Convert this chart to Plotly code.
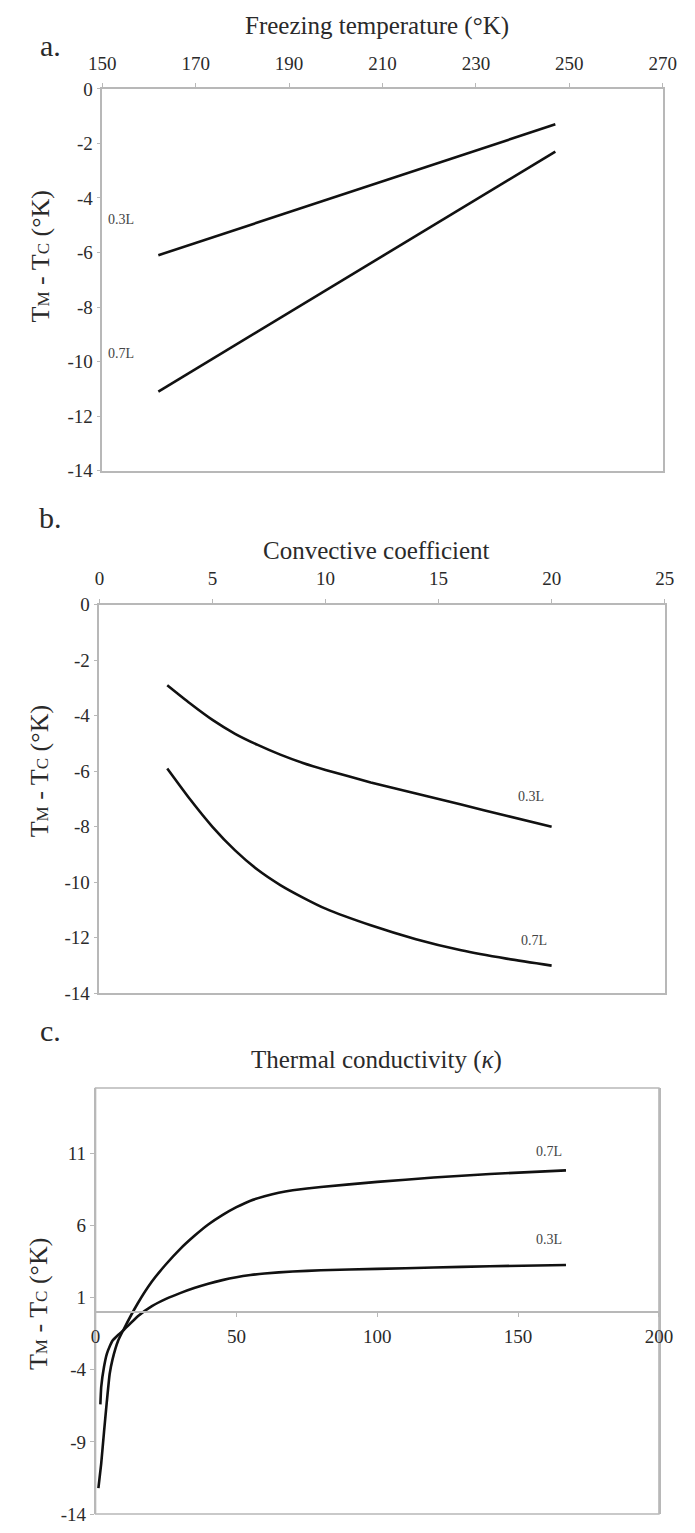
import plotly.graph_objects as go

W, H = 695, 1533

# ---------------- data ----------------
# Panel a: Freezing temperature (°K)
a_x = [162, 247]
a_03 = [-6.1, -1.3]
a_07 = [-11.1, -2.3]
a_xticks = [150, 170, 190, 210, 230, 250, 270]
a_yticks = [0, -2, -4, -6, -8, -10, -12, -14]

# Panel b: Convective coefficient
b_x = [3, 4, 5, 6, 7, 8, 9, 10, 12, 14, 16, 18, 20]
b_03 = [-2.9, -3.55, -4.15, -4.65, -5.05, -5.4, -5.7, -5.95, -6.4, -6.8, -7.2, -7.6, -8.0]
b_07 = [-5.9, -7.0, -8.0, -8.85, -9.55, -10.1, -10.55, -10.95, -11.55, -12.05, -12.45, -12.75, -13.0]
b_xticks = [0, 5, 10, 15, 20, 25]
b_yticks = [0, -2, -4, -6, -8, -10, -12, -14]

# Panel c: Thermal conductivity (kappa)
c_x07 = [1, 2, 3, 4, 5, 6, 8, 10, 15, 20, 25, 30, 35, 40, 45, 50, 55, 60, 65, 70, 80, 100, 120, 140, 167]
c_07 = [-12.2, -10.5, -8.3, -6.2, -4.3, -3.3, -2.0, -1.2, 0.6, 2.1, 3.3, 4.35, 5.25, 6.05, 6.7, 7.25, 7.7, 8.0, 8.25, 8.42, 8.65, 9.0, 9.3, 9.55, 9.8]
c_x03 = [1.7, 2, 3, 4, 5, 6, 8, 10, 15, 20, 25, 30, 35, 40, 45, 50, 55, 60, 70, 80, 100, 120, 140, 167]
c_03 = [-6.4, -5.2, -3.8, -2.9, -2.4, -2.0, -1.6, -1.25, -0.3, 0.4, 0.9, 1.3, 1.65, 1.95, 2.2, 2.4, 2.55, 2.66, 2.8, 2.88, 2.98, 3.07, 3.16, 3.25]
c_xticks = [0, 50, 100, 150, 200]
c_yticks = [-14, -9, -4, 1, 6, 11]

# ---------------- helpers ----------------
def px(x):
    return x / W

def py(y):
    return 1 - y / H

def labels(vals):
    return [str(v) for v in vals]  # plain hyphen minus, as in the original

SERIF = "Liberation Serif"
AX_COL = "#b8b8b8"
TXT = "#2a2a2a"
TICKFONT = dict(family=SERIF, size=19, color=TXT)

fig = go.Figure()
line_style = dict(color="#111111", width=2.6)

fig.add_trace(go.Scatter(x=a_x, y=a_03, mode="lines", line=line_style, xaxis="x", yaxis="y", showlegend=False))
fig.add_trace(go.Scatter(x=a_x, y=a_07, mode="lines", line=line_style, xaxis="x", yaxis="y", showlegend=False))
fig.add_trace(go.Scatter(x=b_x, y=b_03, mode="lines", line=dict(line_style, shape="spline", smoothing=0.6), xaxis="x2", yaxis="y2", showlegend=False))
fig.add_trace(go.Scatter(x=b_x, y=b_07, mode="lines", line=dict(line_style, shape="spline", smoothing=0.6), xaxis="x2", yaxis="y2", showlegend=False))
fig.add_trace(go.Scatter(x=c_x07, y=c_07, mode="lines", line=dict(line_style, shape="spline", smoothing=0.4), xaxis="x3", yaxis="y3", showlegend=False))
fig.add_trace(go.Scatter(x=c_x03, y=c_03, mode="lines", line=dict(line_style, shape="spline", smoothing=0.4), xaxis="x3", yaxis="y3", showlegend=False))

common = dict(showgrid=False, zeroline=False, showline=True, linecolor=AX_COL, linewidth=1.5,
              ticks="outside", ticklen=4, tickcolor=AX_COL, tickfont=TICKFONT)

c_yrange = [-14, 15.5]
c_ydom = [py(1525), py(1093)]
c_xpos = c_ydom[0] + (0 - c_yrange[0]) / (c_yrange[1] - c_yrange[0]) * (c_ydom[1] - c_ydom[0])

fig.update_layout(
    width=W, height=H, margin=dict(l=0, r=0, t=0, b=0),
    paper_bgcolor="white", plot_bgcolor="white",
    xaxis=dict(common, domain=[px(92), px(676)], range=[150, 270],
               tickmode="array", tickvals=a_xticks, ticktext=labels(a_xticks),
               side="top", anchor="y", mirror=True, ticklabelstandoff=6),
    yaxis=dict(common, domain=[py(467), py(80)], range=[-14, 0],
               tickmode="array", tickvals=a_yticks, ticktext=labels(a_yticks),
               anchor="x", mirror=True),
    xaxis2=dict(common, domain=[px(89), px(678)], range=[0, 25],
                tickmode="array", tickvals=b_xticks, ticktext=labels(b_xticks),
                side="top", anchor="y2", mirror=True, ticklabelstandoff=6),
    yaxis2=dict(common, domain=[py(997), py(603)], range=[-14, 0],
                tickmode="array", tickvals=b_yticks, ticktext=labels(b_yticks),
                anchor="x2", mirror=True),
    xaxis3=dict(common, domain=[px(85), px(672)], range=[0, 200],
                tickmode="array", tickvals=c_xticks, ticktext=labels(c_xticks),
                anchor="free", position=c_xpos, ticklabelstandoff=4),
    yaxis3=dict(common, domain=c_ydom, range=c_yrange,
                tickmode="array", tickvals=c_yticks, ticktext=labels(c_yticks),
                anchor="x3", mirror=True),
)

fig.add_shape(type="rect", xref="x3 domain", yref="y3 domain", x0=0, x1=1, y0=0, y1=1,
              line=dict(color=AX_COL, width=1.5), layer="below")

ann = []
def add_text(x, y, text, size, xref="paper", yref="paper", angle=0, color=TXT, xanchor="center"):
    ann.append(dict(x=x, y=y, xref=xref, yref=yref, text=text, showarrow=False, textangle=angle,
                    font=dict(family=SERIF, size=size, color=color), xanchor=xanchor, yanchor="middle"))

# panel letters and titles
add_text(px(38), py(36), "a.", 30)
add_text(px(378), py(16), "Freezing temperature (°K)", 25)
add_text(px(38), py(515), "b.", 30)
add_text(px(378), py(548), "Convective coefficient", 25)
add_text(px(38), py(1035), "c.", 30)
add_text(px(378), py(1065), "Thermal conductivity (<i>κ</i>)", 25)

ytitle = "T<span style='font-size:17px'>M</span> - T<span style='font-size:17px'>C</span> (°K)"
add_text(px(28), py(250), ytitle, 26, angle=-90)
add_text(px(27), py(772), ytitle, 26, angle=-90)
add_text(px(25), py(1312), ytitle, 26, angle=-90)

# curve labels
LABCOL = "#444444"
add_text(154, -4.8, "0.3L", 14, xref="x", yref="y", color=LABCOL)
add_text(154, -9.7, "0.7L", 14, xref="x", yref="y", color=LABCOL)
add_text(19.1, -6.9, "0.3L", 14, xref="x2", yref="y2", color=LABCOL)
add_text(19.2, -12.1, "0.7L", 14, xref="x2", yref="y2", color=LABCOL)
add_text(161, 11.1, "0.7L", 14, xref="x3", yref="y3", color=LABCOL)
add_text(161, 5.0, "0.3L", 14, xref="x3", yref="y3", color=LABCOL)

fig.update_layout(annotations=ann)
fig.write_html("out.html")
